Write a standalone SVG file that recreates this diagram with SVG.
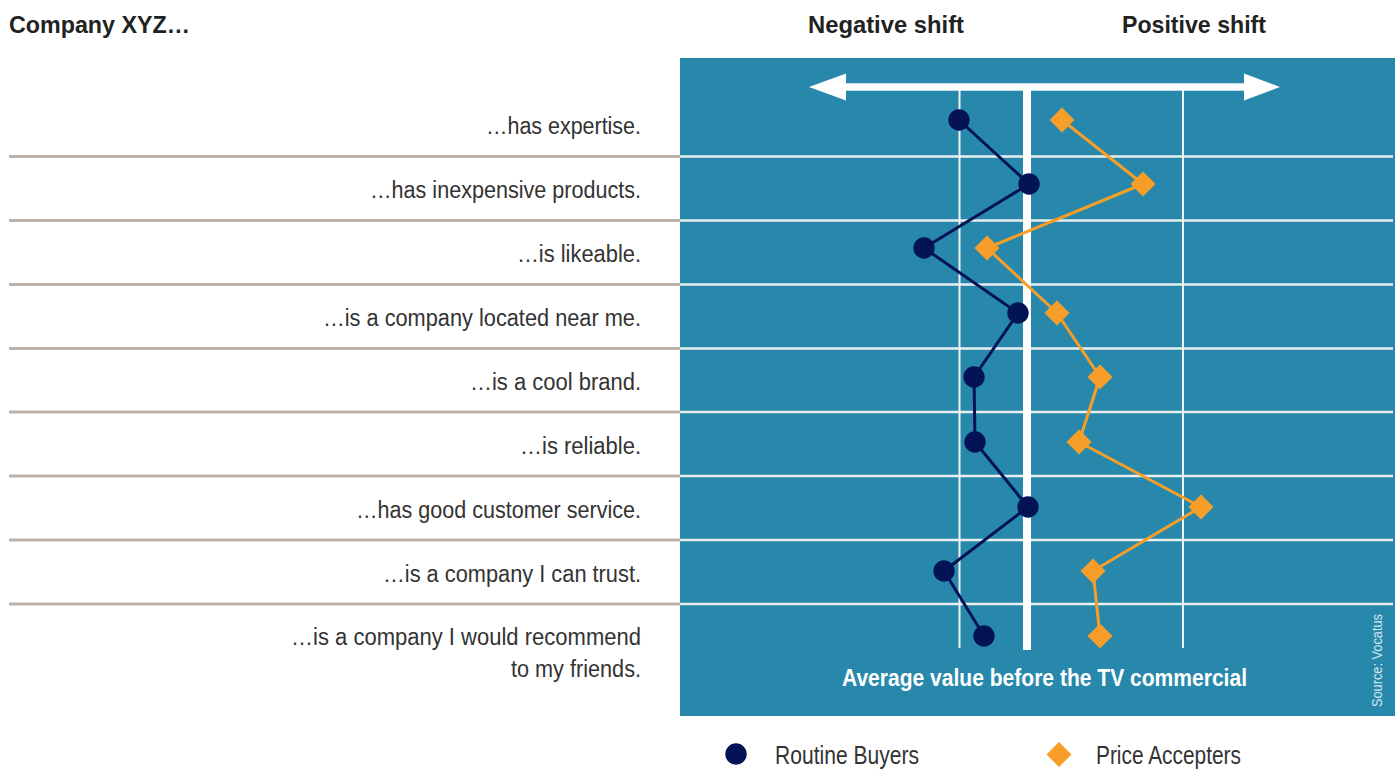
<svg xmlns="http://www.w3.org/2000/svg" width="1399" height="769" viewBox="0 0 1399 769">
<style>
  .hdr{font-family:"Liberation Sans",Arial,sans-serif;font-weight:bold;fill:#222;font-size:24px}
  .lbl{font-family:"Liberation Sans",Arial,sans-serif;fill:#333;font-size:23px;text-anchor:end}
  .leg{font-family:"Liberation Sans",Arial,sans-serif;fill:#333;font-size:25px}
  .sepL{stroke:#BDB3AD;stroke-width:3}
  .sepR{stroke:#E9EEEF;stroke-width:2.5}
  .grid{stroke:#F2F5F6;stroke-width:2}
  .rb{fill:#041356}
  .pa{fill:#F79E29}
</style>
<defs>
  <circle id="dot" r="10.7"/>
  <polygon id="dia" points="0,-12.5 12.5,0 0,12.5 -12.5,0"/>
</defs>
<rect x="0" y="0" width="1399" height="769" fill="#FFFFFF"/>

<g id="headers">
  <text class="hdr" x="9" y="33" textLength="181" lengthAdjust="spacingAndGlyphs">Company XYZ…</text>
  <text class="hdr" x="808" y="33" textLength="156" lengthAdjust="spacingAndGlyphs">Negative shift</text>
  <text class="hdr" x="1122" y="33" textLength="144" lengthAdjust="spacingAndGlyphs">Positive shift</text>
</g>

<g id="panel">
  <rect x="680" y="58" width="715" height="658" fill="#2788AB"/>
</g>

<g id="separators">
  <line class="sepL" x1="9" y1="156.5" x2="680" y2="156.5"/>
  <line class="sepL" x1="9" y1="220.5" x2="680" y2="220.5"/>
  <line class="sepL" x1="9" y1="284.5" x2="680" y2="284.5"/>
  <line class="sepL" x1="9" y1="348.5" x2="680" y2="348.5"/>
  <line class="sepL" x1="9" y1="412" x2="680" y2="412"/>
  <line class="sepL" x1="9" y1="476" x2="680" y2="476"/>
  <line class="sepL" x1="9" y1="540" x2="680" y2="540"/>
  <line class="sepL" x1="9" y1="604" x2="680" y2="604"/>
  <line class="sepR" x1="680" y1="156.5" x2="1393" y2="156.5"/>
  <line class="sepR" x1="680" y1="220.5" x2="1393" y2="220.5"/>
  <line class="sepR" x1="680" y1="284.5" x2="1393" y2="284.5"/>
  <line class="sepR" x1="680" y1="348.5" x2="1393" y2="348.5"/>
  <line class="sepR" x1="680" y1="412" x2="1393" y2="412"/>
  <line class="sepR" x1="680" y1="476" x2="1393" y2="476"/>
  <line class="sepR" x1="680" y1="540" x2="1393" y2="540"/>
  <line class="sepR" x1="680" y1="604" x2="1393" y2="604"/>
</g>

<g id="axes">
  <line class="grid" x1="959.5" y1="90" x2="959.5" y2="648"/>
  <line class="grid" x1="1183" y1="90" x2="1183" y2="648"/>
  <line x1="1027" y1="86" x2="1027" y2="650" stroke="#FFFFFF" stroke-width="8"/>
  <g id="shift-arrow" fill="#FFFFFF">
    <rect x="843" y="83.3" width="404" height="7.4"/>
    <polygon points="809,87 846,73.5 846,100.5"/>
    <polygon points="1280,87 1244,73.5 1244,100.5"/>
  </g>
</g>

<g id="labels">
  <text class="lbl" x="641" y="134" textLength="155" lengthAdjust="spacingAndGlyphs">…has expertise.</text>
  <text class="lbl" x="641" y="198" textLength="271" lengthAdjust="spacingAndGlyphs">…has inexpensive products.</text>
  <text class="lbl" x="641" y="262" textLength="124" lengthAdjust="spacingAndGlyphs">…is likeable.</text>
  <text class="lbl" x="641" y="326" textLength="318" lengthAdjust="spacingAndGlyphs">…is a company located near me.</text>
  <text class="lbl" x="641" y="390" textLength="171" lengthAdjust="spacingAndGlyphs">…is a cool brand.</text>
  <text class="lbl" x="641" y="454" textLength="121" lengthAdjust="spacingAndGlyphs">…is reliable.</text>
  <text class="lbl" x="641" y="518" textLength="285" lengthAdjust="spacingAndGlyphs">…has good customer service.</text>
  <text class="lbl" x="641" y="582" textLength="258" lengthAdjust="spacingAndGlyphs">…is a company I can trust.</text>
  <text class="lbl" x="641" y="645" textLength="350" lengthAdjust="spacingAndGlyphs">…is a company I would recommend</text>
  <text class="lbl" x="641" y="677" textLength="130" lengthAdjust="spacingAndGlyphs">to my friends.</text>
</g>

<g id="connectors" fill="none" stroke-width="3" stroke-linejoin="round">
  <polyline id="routine-line" stroke="#041356" points="959,120 1029,184 924,248 1018,313 974,377 975,442 1028,507 944,571 984,636"/>
  <polyline id="price-line" stroke="#F79E29" points="1062,120 1143,184 987,248 1057,313 1100,377 1079,442 1201,507 1093,571 1100,636"/>
</g>

<g id="routine-buyers" class="rb">
  <use href="#dot" x="959" y="120"/>
  <use href="#dot" x="1029" y="184"/>
  <use href="#dot" x="924" y="248"/>
  <use href="#dot" x="1018" y="313"/>
  <use href="#dot" x="974" y="377"/>
  <use href="#dot" x="975" y="442"/>
  <use href="#dot" x="1028" y="507"/>
  <use href="#dot" x="944" y="571"/>
  <use href="#dot" x="984" y="636"/>
</g>

<g id="price-accepters" class="pa">
  <use href="#dia" x="1062" y="120"/>
  <use href="#dia" x="1143" y="184"/>
  <use href="#dia" x="987" y="248"/>
  <use href="#dia" x="1057" y="313"/>
  <use href="#dia" x="1100" y="377"/>
  <use href="#dia" x="1079" y="442"/>
  <use href="#dia" x="1201" y="507"/>
  <use href="#dia" x="1093" y="571"/>
  <use href="#dia" x="1100" y="636"/>
</g>

<g id="axis-caption">
  <text x="842" y="686" font-family="Liberation Sans, Arial, sans-serif" font-weight="bold" font-size="23" fill="#FFFFFF" textLength="405" lengthAdjust="spacingAndGlyphs">Average value before the TV commercial</text>
</g>

<g id="source">
  <text transform="translate(1382,707) rotate(-90)" x="0" y="0" font-family="Liberation Sans, Arial, sans-serif" font-size="14" fill="#D3E6EE" textLength="93" lengthAdjust="spacingAndGlyphs">Source: Vocatus</text>
</g>

<g id="legend">
  <g id="legend-routine">
    <use href="#dot" x="736" y="754" class="rb"/>
    <text class="leg" x="775" y="764" textLength="144" lengthAdjust="spacingAndGlyphs">Routine Buyers</text>
  </g>
  <g id="legend-price">
    <use href="#dia" x="1059" y="754.5" class="pa"/>
    <text class="leg" x="1096" y="764" textLength="145" lengthAdjust="spacingAndGlyphs">Price Accepters</text>
  </g>
</g>
</svg>
